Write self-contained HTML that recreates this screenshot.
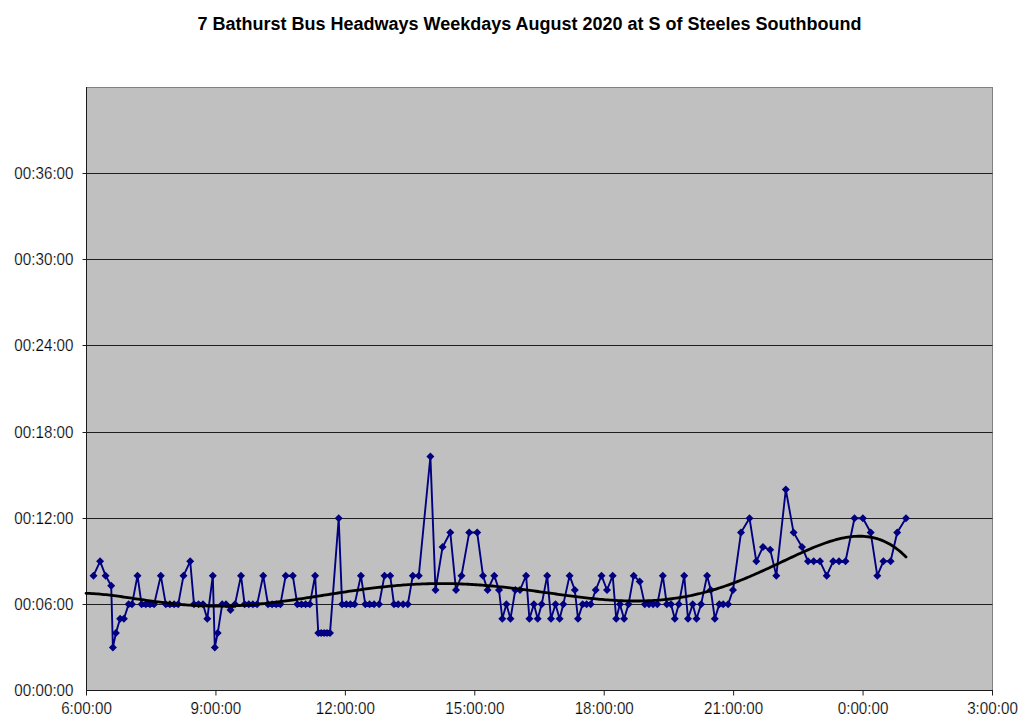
<!DOCTYPE html>
<html><head><meta charset="utf-8"><style>
html,body{margin:0;padding:0;background:#fff;width:1024px;height:723px;overflow:hidden}
svg{display:block}
text{font-family:"Liberation Sans",sans-serif}
</style></head><body>
<svg width="1024" height="723" viewBox="0 0 1024 723">
<text x="529.5" y="29.5" text-anchor="middle" font-weight="bold" font-size="18" fill="#000">7 Bathurst Bus Headways Weekdays August 2020 at S of Steeles Southbound</text>
<rect x="86.5" y="87.5" width="906.0" height="603.0" fill="#c0c0c0" stroke="#808080" stroke-width="1"/>
<line x1="82.5" y1="604.50" x2="992.5" y2="604.50" stroke="#1e1e1e" stroke-width="1"/><line x1="82.5" y1="518.50" x2="992.5" y2="518.50" stroke="#1e1e1e" stroke-width="1"/><line x1="82.5" y1="432.50" x2="992.5" y2="432.50" stroke="#1e1e1e" stroke-width="1"/><line x1="82.5" y1="345.50" x2="992.5" y2="345.50" stroke="#1e1e1e" stroke-width="1"/><line x1="82.5" y1="259.50" x2="992.5" y2="259.50" stroke="#1e1e1e" stroke-width="1"/><line x1="82.5" y1="173.50" x2="992.5" y2="173.50" stroke="#1e1e1e" stroke-width="1"/>
<line x1="86.5" y1="87.0" x2="86.5" y2="691.0" stroke="#1a1a1a" stroke-width="1"/>
<line x1="86.0" y1="690.5" x2="993.0" y2="690.5" stroke="#1a1a1a" stroke-width="1"/>
<g font-size="16" fill="#000" stroke="#fff" stroke-width="0.2"><line x1="86.50" y1="690.5" x2="86.50" y2="695.5" stroke="#1e1e1e" stroke-width="1"/><text transform="translate(86.50,713.5) scale(0.95,1)" text-anchor="middle">6:00:00</text><line x1="215.93" y1="690.5" x2="215.93" y2="695.5" stroke="#1e1e1e" stroke-width="1"/><text transform="translate(215.93,713.5) scale(0.95,1)" text-anchor="middle">9:00:00</text><line x1="345.36" y1="690.5" x2="345.36" y2="695.5" stroke="#1e1e1e" stroke-width="1"/><text transform="translate(345.36,713.5) scale(0.95,1)" text-anchor="middle">12:00:00</text><line x1="474.79" y1="690.5" x2="474.79" y2="695.5" stroke="#1e1e1e" stroke-width="1"/><text transform="translate(474.79,713.5) scale(0.95,1)" text-anchor="middle">15:00:00</text><line x1="604.21" y1="690.5" x2="604.21" y2="695.5" stroke="#1e1e1e" stroke-width="1"/><text transform="translate(604.21,713.5) scale(0.95,1)" text-anchor="middle">18:00:00</text><line x1="733.64" y1="690.5" x2="733.64" y2="695.5" stroke="#1e1e1e" stroke-width="1"/><text transform="translate(733.64,713.5) scale(0.95,1)" text-anchor="middle">21:00:00</text><line x1="863.07" y1="690.5" x2="863.07" y2="695.5" stroke="#1e1e1e" stroke-width="1"/><text transform="translate(863.07,713.5) scale(0.95,1)" text-anchor="middle">0:00:00</text><line x1="992.50" y1="690.5" x2="992.50" y2="695.5" stroke="#1e1e1e" stroke-width="1"/><text transform="translate(992.50,713.5) scale(0.95,1)" text-anchor="middle">3:00:00</text><text transform="translate(73.5,696.00) scale(0.95,1)" text-anchor="end">00:00:00</text><text transform="translate(73.5,609.86) scale(0.95,1)" text-anchor="end">00:06:00</text><text transform="translate(73.5,523.71) scale(0.95,1)" text-anchor="end">00:12:00</text><text transform="translate(73.5,437.57) scale(0.95,1)" text-anchor="end">00:18:00</text><text transform="translate(73.5,351.43) scale(0.95,1)" text-anchor="end">00:24:00</text><text transform="translate(73.5,265.29) scale(0.95,1)" text-anchor="end">00:30:00</text><text transform="translate(73.5,179.14) scale(0.95,1)" text-anchor="end">00:36:00</text></g>
<path d="M93.5,575.64 L100.1,561.29 L105.6,575.64 L111.2,585.69 L112.9,647.43 L115.9,633.07 L120.1,618.71 L123.9,618.71 L128.6,604.36 L132.0,604.36 L137.5,575.64 L141.6,604.36 L145.8,604.36 L150.0,604.36 L154.1,604.36 L160.8,575.64 L165.8,604.36 L169.9,604.36 L174.1,604.36 L178.2,604.36 L183.5,575.64 L190.2,561.29 L194.0,604.36 L198.5,604.36 L203.0,604.36 L207.3,618.71 L212.8,575.64 L214.8,647.43 L217.7,633.07 L222.2,604.36 L226.0,604.36 L230.5,610.10 L235.0,604.36 L241.0,575.64 L244.6,604.36 L248.8,604.36 L252.9,604.36 L257.1,604.36 L263.2,575.64 L268.0,604.36 L272.1,604.36 L276.2,604.36 L280.4,604.36 L285.7,575.64 L292.8,575.64 L297.3,604.36 L301.5,604.36 L305.6,604.36 L309.8,604.36 L315.1,575.64 L318.3,633.07 L321.2,633.07 L324.1,633.07 L327.0,633.07 L330.0,633.07 L338.7,518.21 L342.1,604.36 L346.3,604.36 L350.4,604.36 L354.6,604.36 L360.9,575.64 L365.3,604.36 L369.6,604.36 L374.1,604.36 L379.1,604.36 L384.5,575.64 L390.2,575.64 L394.0,604.36 L398.2,604.36 L403.1,604.36 L407.8,604.36 L412.8,575.64 L418.8,575.64 L430.4,456.48 L435.5,590.00 L442.6,546.93 L450.3,532.57 L456.0,590.00 L461.5,575.64 L469.2,532.57 L477.2,532.57 L483.0,575.64 L487.6,590.00 L494.3,575.64 L499.0,590.00 L502.3,618.71 L506.4,604.36 L510.5,618.71 L515.3,590.00 L520.0,590.00 L526.1,575.64 L529.4,618.71 L533.9,604.36 L537.7,618.71 L541.7,604.36 L547.2,575.64 L551.0,618.71 L555.5,604.36 L559.6,618.71 L563.3,604.36 L569.6,575.64 L574.8,590.00 L578.0,618.71 L582.6,604.36 L586.6,604.36 L590.7,604.36 L595.7,590.00 L601.5,575.64 L607.0,590.00 L612.7,575.64 L616.2,618.71 L619.9,604.36 L624.1,618.71 L628.5,604.36 L633.7,575.64 L639.7,581.39 L644.8,604.36 L649.0,604.36 L653.1,604.36 L657.3,604.36 L662.8,575.64 L666.8,604.36 L671.0,604.36 L674.8,618.71 L678.8,604.36 L684.2,575.64 L688.0,618.71 L692.7,604.36 L696.5,618.71 L701.1,604.36 L707.1,575.64 L710.8,590.00 L714.8,618.71 L719.3,604.36 L723.2,604.36 L728.1,604.36 L733.0,590.00 L741.0,532.57 L749.5,518.21 L756.3,561.29 L763.0,546.93 L770.2,549.80 L776.3,575.64 L785.8,489.50 L793.6,532.57 L802.0,546.93 L808.0,561.29 L813.7,561.29 L820.0,561.29 L826.7,575.64 L833.2,561.29 L839.0,561.29 L845.5,561.29 L854.5,518.21 L862.9,518.21 L870.7,532.57 L877.3,575.64 L883.4,561.29 L890.6,561.29 L897.2,532.57 L906.0,518.21" fill="none" stroke="#000080" stroke-width="1.9" stroke-linejoin="round"/>
<path d="M93.5,571.64l4.0,4.0l-4.0,4.0l-4.0,-4.0zM100.1,557.29l4.0,4.0l-4.0,4.0l-4.0,-4.0zM105.6,571.64l4.0,4.0l-4.0,4.0l-4.0,-4.0zM111.2,581.69l4.0,4.0l-4.0,4.0l-4.0,-4.0zM112.9,643.43l4.0,4.0l-4.0,4.0l-4.0,-4.0zM115.9,629.07l4.0,4.0l-4.0,4.0l-4.0,-4.0zM120.1,614.71l4.0,4.0l-4.0,4.0l-4.0,-4.0zM123.9,614.71l4.0,4.0l-4.0,4.0l-4.0,-4.0zM128.6,600.36l4.0,4.0l-4.0,4.0l-4.0,-4.0zM132.0,600.36l4.0,4.0l-4.0,4.0l-4.0,-4.0zM137.5,571.64l4.0,4.0l-4.0,4.0l-4.0,-4.0zM141.6,600.36l4.0,4.0l-4.0,4.0l-4.0,-4.0zM145.8,600.36l4.0,4.0l-4.0,4.0l-4.0,-4.0zM150.0,600.36l4.0,4.0l-4.0,4.0l-4.0,-4.0zM154.1,600.36l4.0,4.0l-4.0,4.0l-4.0,-4.0zM160.8,571.64l4.0,4.0l-4.0,4.0l-4.0,-4.0zM165.8,600.36l4.0,4.0l-4.0,4.0l-4.0,-4.0zM169.9,600.36l4.0,4.0l-4.0,4.0l-4.0,-4.0zM174.1,600.36l4.0,4.0l-4.0,4.0l-4.0,-4.0zM178.2,600.36l4.0,4.0l-4.0,4.0l-4.0,-4.0zM183.5,571.64l4.0,4.0l-4.0,4.0l-4.0,-4.0zM190.2,557.29l4.0,4.0l-4.0,4.0l-4.0,-4.0zM194.0,600.36l4.0,4.0l-4.0,4.0l-4.0,-4.0zM198.5,600.36l4.0,4.0l-4.0,4.0l-4.0,-4.0zM203.0,600.36l4.0,4.0l-4.0,4.0l-4.0,-4.0zM207.3,614.71l4.0,4.0l-4.0,4.0l-4.0,-4.0zM212.8,571.64l4.0,4.0l-4.0,4.0l-4.0,-4.0zM214.8,643.43l4.0,4.0l-4.0,4.0l-4.0,-4.0zM217.7,629.07l4.0,4.0l-4.0,4.0l-4.0,-4.0zM222.2,600.36l4.0,4.0l-4.0,4.0l-4.0,-4.0zM226.0,600.36l4.0,4.0l-4.0,4.0l-4.0,-4.0zM230.5,606.10l4.0,4.0l-4.0,4.0l-4.0,-4.0zM235.0,600.36l4.0,4.0l-4.0,4.0l-4.0,-4.0zM241.0,571.64l4.0,4.0l-4.0,4.0l-4.0,-4.0zM244.6,600.36l4.0,4.0l-4.0,4.0l-4.0,-4.0zM248.8,600.36l4.0,4.0l-4.0,4.0l-4.0,-4.0zM252.9,600.36l4.0,4.0l-4.0,4.0l-4.0,-4.0zM257.1,600.36l4.0,4.0l-4.0,4.0l-4.0,-4.0zM263.2,571.64l4.0,4.0l-4.0,4.0l-4.0,-4.0zM268.0,600.36l4.0,4.0l-4.0,4.0l-4.0,-4.0zM272.1,600.36l4.0,4.0l-4.0,4.0l-4.0,-4.0zM276.2,600.36l4.0,4.0l-4.0,4.0l-4.0,-4.0zM280.4,600.36l4.0,4.0l-4.0,4.0l-4.0,-4.0zM285.7,571.64l4.0,4.0l-4.0,4.0l-4.0,-4.0zM292.8,571.64l4.0,4.0l-4.0,4.0l-4.0,-4.0zM297.3,600.36l4.0,4.0l-4.0,4.0l-4.0,-4.0zM301.5,600.36l4.0,4.0l-4.0,4.0l-4.0,-4.0zM305.6,600.36l4.0,4.0l-4.0,4.0l-4.0,-4.0zM309.8,600.36l4.0,4.0l-4.0,4.0l-4.0,-4.0zM315.1,571.64l4.0,4.0l-4.0,4.0l-4.0,-4.0zM318.3,629.07l4.0,4.0l-4.0,4.0l-4.0,-4.0zM321.2,629.07l4.0,4.0l-4.0,4.0l-4.0,-4.0zM324.1,629.07l4.0,4.0l-4.0,4.0l-4.0,-4.0zM327.0,629.07l4.0,4.0l-4.0,4.0l-4.0,-4.0zM330.0,629.07l4.0,4.0l-4.0,4.0l-4.0,-4.0zM338.7,514.21l4.0,4.0l-4.0,4.0l-4.0,-4.0zM342.1,600.36l4.0,4.0l-4.0,4.0l-4.0,-4.0zM346.3,600.36l4.0,4.0l-4.0,4.0l-4.0,-4.0zM350.4,600.36l4.0,4.0l-4.0,4.0l-4.0,-4.0zM354.6,600.36l4.0,4.0l-4.0,4.0l-4.0,-4.0zM360.9,571.64l4.0,4.0l-4.0,4.0l-4.0,-4.0zM365.3,600.36l4.0,4.0l-4.0,4.0l-4.0,-4.0zM369.6,600.36l4.0,4.0l-4.0,4.0l-4.0,-4.0zM374.1,600.36l4.0,4.0l-4.0,4.0l-4.0,-4.0zM379.1,600.36l4.0,4.0l-4.0,4.0l-4.0,-4.0zM384.5,571.64l4.0,4.0l-4.0,4.0l-4.0,-4.0zM390.2,571.64l4.0,4.0l-4.0,4.0l-4.0,-4.0zM394.0,600.36l4.0,4.0l-4.0,4.0l-4.0,-4.0zM398.2,600.36l4.0,4.0l-4.0,4.0l-4.0,-4.0zM403.1,600.36l4.0,4.0l-4.0,4.0l-4.0,-4.0zM407.8,600.36l4.0,4.0l-4.0,4.0l-4.0,-4.0zM412.8,571.64l4.0,4.0l-4.0,4.0l-4.0,-4.0zM418.8,571.64l4.0,4.0l-4.0,4.0l-4.0,-4.0zM430.4,452.48l4.0,4.0l-4.0,4.0l-4.0,-4.0zM435.5,586.00l4.0,4.0l-4.0,4.0l-4.0,-4.0zM442.6,542.93l4.0,4.0l-4.0,4.0l-4.0,-4.0zM450.3,528.57l4.0,4.0l-4.0,4.0l-4.0,-4.0zM456.0,586.00l4.0,4.0l-4.0,4.0l-4.0,-4.0zM461.5,571.64l4.0,4.0l-4.0,4.0l-4.0,-4.0zM469.2,528.57l4.0,4.0l-4.0,4.0l-4.0,-4.0zM477.2,528.57l4.0,4.0l-4.0,4.0l-4.0,-4.0zM483.0,571.64l4.0,4.0l-4.0,4.0l-4.0,-4.0zM487.6,586.00l4.0,4.0l-4.0,4.0l-4.0,-4.0zM494.3,571.64l4.0,4.0l-4.0,4.0l-4.0,-4.0zM499.0,586.00l4.0,4.0l-4.0,4.0l-4.0,-4.0zM502.3,614.71l4.0,4.0l-4.0,4.0l-4.0,-4.0zM506.4,600.36l4.0,4.0l-4.0,4.0l-4.0,-4.0zM510.5,614.71l4.0,4.0l-4.0,4.0l-4.0,-4.0zM515.3,586.00l4.0,4.0l-4.0,4.0l-4.0,-4.0zM520.0,586.00l4.0,4.0l-4.0,4.0l-4.0,-4.0zM526.1,571.64l4.0,4.0l-4.0,4.0l-4.0,-4.0zM529.4,614.71l4.0,4.0l-4.0,4.0l-4.0,-4.0zM533.9,600.36l4.0,4.0l-4.0,4.0l-4.0,-4.0zM537.7,614.71l4.0,4.0l-4.0,4.0l-4.0,-4.0zM541.7,600.36l4.0,4.0l-4.0,4.0l-4.0,-4.0zM547.2,571.64l4.0,4.0l-4.0,4.0l-4.0,-4.0zM551.0,614.71l4.0,4.0l-4.0,4.0l-4.0,-4.0zM555.5,600.36l4.0,4.0l-4.0,4.0l-4.0,-4.0zM559.6,614.71l4.0,4.0l-4.0,4.0l-4.0,-4.0zM563.3,600.36l4.0,4.0l-4.0,4.0l-4.0,-4.0zM569.6,571.64l4.0,4.0l-4.0,4.0l-4.0,-4.0zM574.8,586.00l4.0,4.0l-4.0,4.0l-4.0,-4.0zM578.0,614.71l4.0,4.0l-4.0,4.0l-4.0,-4.0zM582.6,600.36l4.0,4.0l-4.0,4.0l-4.0,-4.0zM586.6,600.36l4.0,4.0l-4.0,4.0l-4.0,-4.0zM590.7,600.36l4.0,4.0l-4.0,4.0l-4.0,-4.0zM595.7,586.00l4.0,4.0l-4.0,4.0l-4.0,-4.0zM601.5,571.64l4.0,4.0l-4.0,4.0l-4.0,-4.0zM607.0,586.00l4.0,4.0l-4.0,4.0l-4.0,-4.0zM612.7,571.64l4.0,4.0l-4.0,4.0l-4.0,-4.0zM616.2,614.71l4.0,4.0l-4.0,4.0l-4.0,-4.0zM619.9,600.36l4.0,4.0l-4.0,4.0l-4.0,-4.0zM624.1,614.71l4.0,4.0l-4.0,4.0l-4.0,-4.0zM628.5,600.36l4.0,4.0l-4.0,4.0l-4.0,-4.0zM633.7,571.64l4.0,4.0l-4.0,4.0l-4.0,-4.0zM639.7,577.39l4.0,4.0l-4.0,4.0l-4.0,-4.0zM644.8,600.36l4.0,4.0l-4.0,4.0l-4.0,-4.0zM649.0,600.36l4.0,4.0l-4.0,4.0l-4.0,-4.0zM653.1,600.36l4.0,4.0l-4.0,4.0l-4.0,-4.0zM657.3,600.36l4.0,4.0l-4.0,4.0l-4.0,-4.0zM662.8,571.64l4.0,4.0l-4.0,4.0l-4.0,-4.0zM666.8,600.36l4.0,4.0l-4.0,4.0l-4.0,-4.0zM671.0,600.36l4.0,4.0l-4.0,4.0l-4.0,-4.0zM674.8,614.71l4.0,4.0l-4.0,4.0l-4.0,-4.0zM678.8,600.36l4.0,4.0l-4.0,4.0l-4.0,-4.0zM684.2,571.64l4.0,4.0l-4.0,4.0l-4.0,-4.0zM688.0,614.71l4.0,4.0l-4.0,4.0l-4.0,-4.0zM692.7,600.36l4.0,4.0l-4.0,4.0l-4.0,-4.0zM696.5,614.71l4.0,4.0l-4.0,4.0l-4.0,-4.0zM701.1,600.36l4.0,4.0l-4.0,4.0l-4.0,-4.0zM707.1,571.64l4.0,4.0l-4.0,4.0l-4.0,-4.0zM710.8,586.00l4.0,4.0l-4.0,4.0l-4.0,-4.0zM714.8,614.71l4.0,4.0l-4.0,4.0l-4.0,-4.0zM719.3,600.36l4.0,4.0l-4.0,4.0l-4.0,-4.0zM723.2,600.36l4.0,4.0l-4.0,4.0l-4.0,-4.0zM728.1,600.36l4.0,4.0l-4.0,4.0l-4.0,-4.0zM733.0,586.00l4.0,4.0l-4.0,4.0l-4.0,-4.0zM741.0,528.57l4.0,4.0l-4.0,4.0l-4.0,-4.0zM749.5,514.21l4.0,4.0l-4.0,4.0l-4.0,-4.0zM756.3,557.29l4.0,4.0l-4.0,4.0l-4.0,-4.0zM763.0,542.93l4.0,4.0l-4.0,4.0l-4.0,-4.0zM770.2,545.80l4.0,4.0l-4.0,4.0l-4.0,-4.0zM776.3,571.64l4.0,4.0l-4.0,4.0l-4.0,-4.0zM785.8,485.50l4.0,4.0l-4.0,4.0l-4.0,-4.0zM793.6,528.57l4.0,4.0l-4.0,4.0l-4.0,-4.0zM802.0,542.93l4.0,4.0l-4.0,4.0l-4.0,-4.0zM808.0,557.29l4.0,4.0l-4.0,4.0l-4.0,-4.0zM813.7,557.29l4.0,4.0l-4.0,4.0l-4.0,-4.0zM820.0,557.29l4.0,4.0l-4.0,4.0l-4.0,-4.0zM826.7,571.64l4.0,4.0l-4.0,4.0l-4.0,-4.0zM833.2,557.29l4.0,4.0l-4.0,4.0l-4.0,-4.0zM839.0,557.29l4.0,4.0l-4.0,4.0l-4.0,-4.0zM845.5,557.29l4.0,4.0l-4.0,4.0l-4.0,-4.0zM854.5,514.21l4.0,4.0l-4.0,4.0l-4.0,-4.0zM862.9,514.21l4.0,4.0l-4.0,4.0l-4.0,-4.0zM870.7,528.57l4.0,4.0l-4.0,4.0l-4.0,-4.0zM877.3,571.64l4.0,4.0l-4.0,4.0l-4.0,-4.0zM883.4,557.29l4.0,4.0l-4.0,4.0l-4.0,-4.0zM890.6,557.29l4.0,4.0l-4.0,4.0l-4.0,-4.0zM897.2,528.57l4.0,4.0l-4.0,4.0l-4.0,-4.0zM906.0,514.21l4.0,4.0l-4.0,4.0l-4.0,-4.0z" fill="#000080"/>
<path d="M86.0,593.34 L88.0,593.39 L90.0,593.47 L92.0,593.56 L94.0,593.68 L96.0,593.82 L98.0,593.97 L100.0,594.14 L102.0,594.32 L104.0,594.52 L106.0,594.73 L108.0,594.95 L110.0,595.18 L112.0,595.43 L114.0,595.68 L116.0,595.94 L118.0,596.21 L120.0,596.48 L122.0,596.76 L124.0,597.04 L126.0,597.33 L128.0,597.62 L130.0,597.92 L132.0,598.21 L134.0,598.51 L136.0,598.80 L138.0,599.10 L140.0,599.40 L142.0,599.69 L144.0,599.98 L146.0,600.27 L148.0,600.56 L150.0,600.84 L152.0,601.12 L154.0,601.40 L156.0,601.67 L158.0,601.94 L160.0,602.20 L162.0,602.45 L164.0,602.70 L166.0,602.94 L168.0,603.17 L170.0,603.40 L172.0,603.62 L174.0,603.83 L176.0,604.03 L178.0,604.22 L180.0,604.41 L182.0,604.59 L184.0,604.75 L186.0,604.91 L188.0,605.06 L190.0,605.20 L192.0,605.33 L194.0,605.45 L196.0,605.56 L198.0,605.67 L200.0,605.76 L202.0,605.84 L204.0,605.91 L206.0,605.97 L208.0,606.02 L210.0,606.06 L212.0,606.09 L214.0,606.11 L216.0,606.12 L218.0,606.12 L220.0,606.11 L222.0,606.09 L224.0,606.06 L226.0,606.03 L228.0,605.98 L230.0,605.92 L232.0,605.85 L234.0,605.77 L236.0,605.68 L238.0,605.59 L240.0,605.48 L242.0,605.36 L244.0,605.24 L246.0,605.11 L248.0,604.97 L250.0,604.82 L252.0,604.66 L254.0,604.49 L256.0,604.32 L258.0,604.14 L260.0,603.95 L262.0,603.75 L264.0,603.55 L266.0,603.33 L268.0,603.12 L270.0,602.89 L272.0,602.66 L274.0,602.42 L276.0,602.18 L278.0,601.93 L280.0,601.68 L282.0,601.42 L284.0,601.16 L286.0,600.89 L288.0,600.61 L290.0,600.34 L292.0,600.05 L294.0,599.77 L296.0,599.48 L298.0,599.19 L300.0,598.89 L302.0,598.59 L304.0,598.29 L306.0,597.99 L308.0,597.68 L310.0,597.37 L312.0,597.06 L314.0,596.75 L316.0,596.44 L318.0,596.13 L320.0,595.82 L322.0,595.50 L324.0,595.19 L326.0,594.87 L328.0,594.56 L330.0,594.25 L332.0,593.93 L334.0,593.62 L336.0,593.31 L338.0,593.00 L340.0,592.70 L342.0,592.39 L344.0,592.09 L346.0,591.79 L348.0,591.49 L350.0,591.19 L352.0,590.90 L354.0,590.61 L356.0,590.33 L358.0,590.04 L360.0,589.77 L362.0,589.49 L364.0,589.22 L366.0,588.96 L368.0,588.70 L370.0,588.44 L372.0,588.19 L374.0,587.94 L376.0,587.70 L378.0,587.47 L380.0,587.24 L382.0,587.01 L384.0,586.79 L386.0,586.58 L388.0,586.38 L390.0,586.18 L392.0,585.99 L394.0,585.80 L396.0,585.62 L398.0,585.45 L400.0,585.28 L402.0,585.12 L404.0,584.97 L406.0,584.83 L408.0,584.69 L410.0,584.56 L412.0,584.44 L414.0,584.33 L416.0,584.22 L418.0,584.12 L420.0,584.03 L422.0,583.95 L424.0,583.87 L426.0,583.80 L428.0,583.75 L430.0,583.69 L432.0,583.65 L434.0,583.62 L436.0,583.59 L438.0,583.57 L440.0,583.56 L442.0,583.56 L444.0,583.56 L446.0,583.58 L448.0,583.60 L450.0,583.63 L452.0,583.67 L454.0,583.71 L456.0,583.77 L458.0,583.83 L460.0,583.90 L462.0,583.98 L464.0,584.06 L466.0,584.15 L468.0,584.25 L470.0,584.36 L472.0,584.48 L474.0,584.60 L476.0,584.73 L478.0,584.86 L480.0,585.01 L482.0,585.16 L484.0,585.32 L486.0,585.48 L488.0,585.65 L490.0,585.83 L492.0,586.01 L494.0,586.20 L496.0,586.39 L498.0,586.59 L500.0,586.80 L502.0,587.01 L504.0,587.23 L506.0,587.45 L508.0,587.67 L510.0,587.91 L512.0,588.14 L514.0,588.38 L516.0,588.62 L518.0,588.87 L520.0,589.12 L522.0,589.38 L524.0,589.64 L526.0,589.90 L528.0,590.16 L530.0,590.43 L532.0,590.69 L534.0,590.97 L536.0,591.24 L538.0,591.51 L540.0,591.79 L542.0,592.06 L544.0,592.34 L546.0,592.62 L548.0,592.89 L550.0,593.17 L552.0,593.45 L554.0,593.73 L556.0,594.00 L558.0,594.28 L560.0,594.55 L562.0,594.82 L564.0,595.09 L566.0,595.36 L568.0,595.62 L570.0,595.89 L572.0,596.14 L574.0,596.40 L576.0,596.65 L578.0,596.90 L580.0,597.14 L582.0,597.38 L584.0,597.62 L586.0,597.84 L588.0,598.07 L590.0,598.28 L592.0,598.50 L594.0,598.70 L596.0,598.90 L598.0,599.09 L600.0,599.28 L602.0,599.45 L604.0,599.62 L606.0,599.78 L608.0,599.93 L610.0,600.08 L612.0,600.21 L614.0,600.34 L616.0,600.45 L618.0,600.56 L620.0,600.65 L622.0,600.74 L624.0,600.81 L626.0,600.87 L628.0,600.93 L630.0,600.97 L632.0,600.99 L634.0,601.01 L636.0,601.02 L638.0,601.01 L640.0,600.99 L642.0,600.95 L644.0,600.91 L646.0,600.85 L648.0,600.77 L650.0,600.68 L652.0,600.58 L654.0,600.47 L656.0,600.33 L658.0,600.19 L660.0,600.03 L662.0,599.85 L664.0,599.66 L666.0,599.46 L668.0,599.24 L670.0,599.00 L672.0,598.75 L674.0,598.48 L676.0,598.19 L678.0,597.89 L680.0,597.58 L682.0,597.24 L684.0,596.89 L686.0,596.53 L688.0,596.14 L690.0,595.75 L692.0,595.33 L694.0,594.90 L696.0,594.45 L698.0,593.98 L700.0,593.50 L702.0,593.00 L704.0,592.49 L706.0,591.96 L708.0,591.41 L710.0,590.85 L712.0,590.27 L714.0,589.67 L716.0,589.06 L718.0,588.43 L720.0,587.79 L722.0,587.13 L724.0,586.46 L726.0,585.77 L728.0,585.06 L730.0,584.35 L732.0,583.61 L734.0,582.87 L736.0,582.11 L738.0,581.33 L740.0,580.55 L742.0,579.75 L744.0,578.94 L746.0,578.11 L748.0,577.28 L750.0,576.43 L752.0,575.57 L754.0,574.71 L756.0,573.83 L758.0,572.94 L760.0,572.05 L762.0,571.15 L764.0,570.24 L766.0,569.32 L768.0,568.40 L770.0,567.47 L772.0,566.54 L774.0,565.60 L776.0,564.66 L778.0,563.72 L780.0,562.77 L782.0,561.82 L784.0,560.88 L786.0,559.93 L788.0,558.99 L790.0,558.05 L792.0,557.11 L794.0,556.17 L796.0,555.25 L798.0,554.32 L800.0,553.41 L802.0,552.50 L804.0,551.61 L806.0,550.72 L808.0,549.85 L810.0,548.99 L812.0,548.15 L814.0,547.32 L816.0,546.51 L818.0,545.72 L820.0,544.95 L822.0,544.20 L824.0,543.47 L826.0,542.77 L828.0,542.09 L830.0,541.44 L832.0,540.82 L834.0,540.23 L836.0,539.67 L838.0,539.15 L840.0,538.67 L842.0,538.22 L844.0,537.81 L846.0,537.44 L848.0,537.12 L850.0,536.84 L852.0,536.61 L854.0,536.43 L856.0,536.31 L858.0,536.23 L860.0,536.21 L862.0,536.25 L864.0,536.35 L866.0,536.52 L868.0,536.75 L870.0,537.04 L872.0,537.41 L874.0,537.85 L876.0,538.36 L878.0,538.96 L880.0,539.63 L882.0,540.39 L884.0,541.23 L886.0,542.16 L888.0,543.18 L890.0,544.30 L892.0,545.51 L894.0,546.83 L896.0,548.25 L898.0,549.77 L900.0,551.41 L902.0,553.16 L904.0,555.02 L906.0,557.01" fill="none" stroke="#000" stroke-width="2.8" stroke-linecap="round" stroke-linejoin="round"/>
</svg>
</body></html>
